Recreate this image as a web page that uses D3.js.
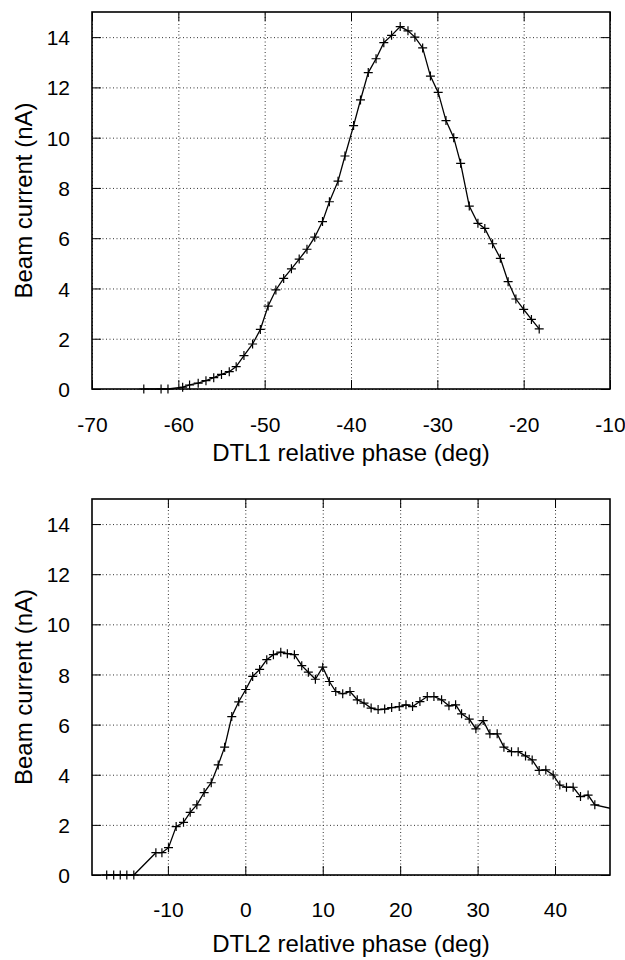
<!DOCTYPE html>
<html>
<head>
<meta charset="utf-8">
<script src="https://cdn.jsdelivr.net/npm/d3@7"></script>
<style>
  html, body { margin: 0; padding: 0; background: #fff; }
  svg { display: block; }
  text { font-family: "Liberation Sans", Arial, Helvetica, sans-serif; fill: #000; }
</style>
</head>
<body>
<svg id="chart" width="625" height="960"></svg>
<script>
// ---- Data ----
const phase1 = [-64, -62, -61.2, -59.5, -58.7, -57.7, -56.8, -55.9, -55.0, -54.1, -53.3, -52.4, -51.4, -50.5,
  -49.6, -48.7, -47.8, -46.9, -46.0, -45.1, -44.2, -43.3, -42.5, -41.5, -40.7, -39.7, -38.9, -38.0, -37.1,
  -36.2, -35.3, -34.3, -33.4, -32.6, -31.7, -30.8, -29.9, -29.0, -28.1, -27.3, -26.3, -25.3, -24.5, -23.6,
  -22.7, -21.8, -20.9, -20.0, -19.1, -18.2];
const current1 = [0, 0, 0, 0.07, 0.16, 0.23, 0.33, 0.45, 0.58, 0.69, 0.89, 1.33, 1.79, 2.37,
  3.30, 3.94, 4.40, 4.78, 5.17, 5.56, 6.04, 6.66, 7.45, 8.27, 9.27, 10.48, 11.5, 12.59, 13.14,
  13.78, 14.07, 14.42, 14.25, 14.0, 13.57, 12.45, 11.8, 10.68, 10.0, 8.98, 7.28, 6.59, 6.39, 5.78,
  5.2, 4.27, 3.58, 3.17, 2.77, 2.39];

const phase2 = [-17.9, -17.0, -16.15, -15.3, -14.4, -11.55, -10.77, -9.92, -8.93, -7.98, -7.12, -6.26, -5.32,
  -4.4, -3.5, -2.67, -1.75, -0.85, 0.06, 0.95, 1.85, 2.77, 3.63, 4.58, 5.43, 6.34, 7.29, 8.14, 9.05, 10.0,
  10.85, 11.68, 12.58, 13.52, 14.46, 15.33, 16.25, 17.15, 18.0, 18.9, 19.88, 20.75, 21.6, 22.55, 23.5, 24.36,
  25.35, 26.3, 27.16, 27.93, 28.92, 29.78, 30.72, 31.59, 32.53, 33.4, 34.38, 35.24, 36.19, 37.05, 37.95,
  38.81, 39.76, 40.62, 41.48, 42.34, 43.29, 44.27, 45.14, 48.0];
const current2 = [0, 0, 0, 0, 0, 0.89, 0.89, 1.09, 1.93, 2.1, 2.5, 2.8, 3.29,
  3.68, 4.39, 5.1, 6.32, 6.91, 7.4, 7.92, 8.2, 8.59, 8.79, 8.89, 8.83, 8.79, 8.35, 8.09, 7.81, 8.29,
  7.72, 7.32, 7.23, 7.32, 6.99, 6.86, 6.66, 6.6, 6.62, 6.68, 6.72, 6.79, 6.72, 6.92, 7.12, 7.12,
  6.99, 6.75, 6.79, 6.43, 6.22, 5.83, 6.16, 5.63, 5.63, 5.1, 4.92, 4.92, 4.75, 4.59, 4.17,
  4.19, 3.99, 3.59, 3.5, 3.5, 3.13, 3.19, 2.8, 2.6];

const xTicks1 = [-70, -60, -50, -40, -30, -20, -10];
const xTicks2 = [-10, 0, 10, 20, 30, 40];
const yTicks = [0, 2, 4, 6, 8, 10, 12, 14];
const xDomain1 = [-70, -10];
const xDomain2 = [-19.8, 47.1];
const yDomain = [0, 15];
const xLabel1 = "DTL1 relative phase (deg)";
const xLabel2 = "DTL2 relative phase (deg)";
const yLabel = "Beam current (nA)";

// ---- Layout ----
const svg = d3.select("#chart");
const L = 92, R = 610;
const panels = [
  { id: 1, top: 12, bottom: 389, xs: phase1, ys: current1, xDomain: xDomain1, xTicks: xTicks1, xLabel: xLabel1, xLabelY: 461 },
  { id: 2, top: 499, bottom: 875, xs: phase2, ys: current2, xDomain: xDomain2, xTicks: xTicks2, xLabel: xLabel2, xLabelY: 952 }
];

panels.forEach(p => {
  const x = d3.scaleLinear().domain(p.xDomain).range([L, R]);
  const y = d3.scaleLinear().domain(yDomain).range([p.bottom, p.top]);
  const w = R - L, h = p.bottom - p.top;
  const g = svg.append("g");

  // clip
  const clipId = "clip" + p.id;
  svg.append("clipPath").attr("id", clipId)
    .append("rect").attr("x", L).attr("y", p.top - 6).attr("width", w).attr("height", h + 12);

  // grid
  const gx = g.append("g").attr("transform", `translate(0,${p.bottom})`)
    .call(d3.axisBottom(x).tickValues(p.xTicks).tickSize(-h).tickFormat(""));
  const gy = g.append("g").attr("transform", `translate(${L},0)`)
    .call(d3.axisLeft(y).tickValues(yTicks).tickSize(-w).tickFormat(""));
  [gx, gy].forEach(s => {
    s.select(".domain").remove();
    s.selectAll("line").attr("stroke", "#333").attr("stroke-width", 1).attr("stroke-dasharray", "1,2.5");
  });

  // inward ticks on all four sides
  const tb = g.append("g").attr("transform", `translate(0,${p.bottom})`)
    .call(d3.axisBottom(x).tickValues(p.xTicks).tickSize(-9).tickFormat(d => d));
  const tt = g.append("g").attr("transform", `translate(0,${p.top})`)
    .call(d3.axisTop(x).tickValues(p.xTicks).tickSize(-9).tickFormat(""));
  const tl = g.append("g").attr("transform", `translate(${L},0)`)
    .call(d3.axisLeft(y).tickValues(yTicks).tickSize(-9).tickPadding(22).tickFormat(d => d));
  const tr = g.append("g").attr("transform", `translate(${R},0)`)
    .call(d3.axisRight(y).tickValues(yTicks).tickSize(-9).tickFormat(""));
  [tb, tt, tl, tr].forEach(s => {
    s.select(".domain").remove();
    s.selectAll("line").attr("stroke", "#000").attr("stroke-width", 1);
    s.attr("font-family", null).attr("font-size", null);
  });
  tb.selectAll("text").attr("y", p.id === 1 ? 43 : 42).attr("dy", null)
    .style("font-size", "21px");
  tl.selectAll("text").attr("dy", "0.36em").style("font-size", "21px");

  // data line
  const line = d3.line().x((d, i) => x(p.xs[i])).y(d => y(d));
  g.append("path")
    .datum(p.ys)
    .attr("clip-path", `url(#${clipId})`)
    .attr("fill", "none")
    .attr("stroke", "#000")
    .attr("stroke-width", 1.3)
    .attr("d", line);

  // cross markers
  const s = 4.5;
  const pts = p.ys.map((v, i) => [x(p.xs[i]), y(v)]).filter(d => d[0] >= L && d[0] <= R);
  g.append("g").selectAll("path").data(pts).join("path")
    .attr("fill", "none").attr("stroke", "#000").attr("stroke-width", 1.2)
    .attr("d", d => `M${d[0] - s},${d[1]}H${d[0] + s}M${d[0]},${d[1] - s}V${d[1] + s}`);

  // frame
  g.append("rect").attr("x", L).attr("y", p.top).attr("width", w).attr("height", h)
    .attr("fill", "none").attr("stroke", "#000").attr("stroke-width", 1.6);

  // labels
  g.append("text").attr("x", (L + R) / 2).attr("y", p.xLabelY)
    .attr("text-anchor", "middle").style("font-size", "24px").text(p.xLabel);
  g.append("text")
    .attr("transform", `translate(32,${(p.top + p.bottom) / 2}) rotate(-90)`)
    .attr("text-anchor", "middle").style("font-size", "24px").text(yLabel);
});
</script>
</body>
</html>
